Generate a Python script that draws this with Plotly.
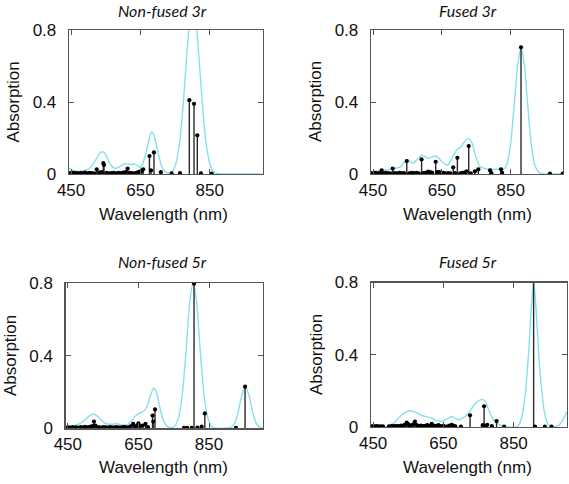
import plotly.graph_objects as go

# ---------------- data ----------------
x_tick_vals = [450, 650, 850]
y_tick_vals = [0, 0.4, 0.8]
y_tick_text = ["0", "0.4", "0.8"]
panel_titles = ["Non-fused 3r", "Fused 3r", "Non-fused 5r", "Fused 5r"]
x_title = "Wavelength (nm)"
y_title = "Absorption"

# Non-fused 3r : broadened spectrum
nf3_curve_nm = [444, 455, 465, 476, 490, 505, 515, 525, 533, 540, 547, 555, 563, 570, 577, 585, 595, 605,
                615, 625, 634, 642, 648, 655, 662, 670, 676, 682, 688, 695, 702, 710, 718, 726, 735, 741,
                751, 761, 771, 781, 791, 801, 811, 821, 831, 841, 851, 861, 875, 900, 950, 1002]
nf3_curve_abs = [0.031, 0.022, 0.015, 0.013, 0.02, 0.035, 0.06, 0.09, 0.115, 0.124, 0.115, 0.085, 0.055,
                 0.038, 0.031, 0.035, 0.048, 0.056, 0.056, 0.054, 0.055, 0.045, 0.037, 0.05, 0.09, 0.15,
                 0.2, 0.235, 0.22, 0.17, 0.11, 0.05, 0.02, 0.008, 0.006, 0.012, 0.05, 0.15, 0.33, 0.59,
                 0.83, 0.93, 0.83, 0.59, 0.33, 0.15, 0.05, 0.012, 0.002, 0.0, 0.0, 0.0]
# Non-fused 3r : transitions
nf3_stick_nm = [447, 451, 456, 461, 466, 472, 478, 485, 490, 497, 503, 510, 517, 524, 531, 538, 543, 545,
                552, 559, 566, 573, 580, 587, 594, 600, 607, 613, 619, 626, 633, 640, 646, 651, 654, 658,
                676, 680.5, 689, 709, 740, 764, 791, 804.5, 814, 824.6, 855.5]
nf3_stick_f = [0.005, 0.004, 0.006, 0.003, 0.005, 0.004, 0.006, 0.003, 0.008, 0.004, 0.006, 0.005, 0.004,
               0.026, 0.008, 0.01, 0.06, 0.05, 0.006, 0.004, 0.005, 0.007, 0.004, 0.006, 0.005, 0.008,
               0.01, 0.03, 0.006, 0.005, 0.004, 0.008, 0.012, 0.015, 0.02, 0.026, 0.1, 0.02, 0.12, 0.01,
               0.003, 0.005, 0.41, 0.39, 0.215, 0.003, 0.002]

# Fused 3r
f3_curve_nm = [444, 460, 485, 510, 530, 540, 548, 556, 567, 580, 591, 600, 611, 621, 630, 640, 652, 667,
               680, 693, 705, 718, 729, 738, 748, 761, 775, 795, 815, 830, 840, 850, 860, 870, 880, 890,
               900, 910, 920, 930, 940, 960, 1002]
f3_curve_abs = [0.007, 0.015, 0.022, 0.03, 0.04, 0.065, 0.081, 0.072, 0.06, 0.085, 0.104, 0.098, 0.087,
                0.094, 0.1, 0.09, 0.065, 0.05, 0.09, 0.133, 0.15, 0.185, 0.198, 0.17, 0.1, 0.04, 0.03,
                0.026, 0.026, 0.028, 0.06, 0.17, 0.38, 0.6, 0.70, 0.6, 0.37, 0.16, 0.05, 0.012, 0.002,
                0.0, 0.0]
f3_stick_nm = [446, 451, 456, 462, 468, 475, 480, 487, 493, 500, 507, 513, 520, 527, 533, 540, 548, 555,
               562, 569, 576, 583, 591, 597, 603, 610, 616, 622, 632, 637, 642, 648, 654, 660, 668, 675,
               683, 688, 695, 703, 710, 716, 722, 728, 734, 746, 756, 790, 794, 822, 825, 880, 964, 1001]
f3_stick_f = [0.003, 0.004, 0.006, 0.003, 0.005, 0.02, 0.004, 0.006, 0.005, 0.004, 0.03, 0.005, 0.003,
              0.006, 0.004, 0.005, 0.072, 0.004, 0.006, 0.005, 0.007, 0.004, 0.081, 0.005, 0.006, 0.013,
              0.01, 0.007, 0.068, 0.01, 0.012, 0.008, 0.006, 0.004, 0.005, 0.004, 0.037, 0.005, 0.09,
              0.004, 0.006, 0.008, 0.015, 0.155, 0.003, 0.015, 0.026, 0.02, 0.005, 0.026, 0.006, 0.704,
              0.002, 0.002]

# Non-fused 5r
nf5_curve_nm = [444, 465, 485, 500, 512, 522, 532, 545, 560, 575, 588, 600, 612, 622, 630, 640, 650, 660,
                668, 676, 684, 694, 702, 710, 718, 726, 734, 742, 752, 765, 775, 785, 795, 805, 815, 825,
                835, 845, 855, 865, 890, 913, 923, 933, 943, 953, 963, 973, 983, 993, 1002]
nf5_curve_abs = [0.004, 0.012, 0.027, 0.05, 0.07, 0.079, 0.07, 0.045, 0.024, 0.022, 0.025, 0.02, 0.015,
                 0.025, 0.04, 0.065, 0.08, 0.088, 0.1, 0.13, 0.18, 0.223, 0.19, 0.12, 0.06, 0.025, 0.008,
                 0.003, 0.01, 0.07, 0.2, 0.43, 0.69, 0.8, 0.69, 0.43, 0.2, 0.07, 0.017, 0.002, 0.0, 0.006,
                 0.03, 0.093, 0.183, 0.229, 0.183, 0.093, 0.03, 0.006, 0.001]
nf5_stick_nm = [448, 453, 458, 463, 468, 474, 480, 486, 492, 498, 504, 510, 515, 520.5, 524, 528, 533, 539,
                545, 551, 557, 563, 569, 575, 581, 587, 593, 599, 605, 611, 617, 623, 629, 635, 641, 646,
                650, 655, 662, 670, 677, 690, 692, 697, 779, 788, 801, 807.5, 817, 829, 838, 926, 952]
nf5_stick_f = [0.004, 0.005, 0.003, 0.006, 0.004, 0.005, 0.003, 0.006, 0.004, 0.008, 0.005, 0.006, 0.01,
               0.012, 0.037, 0.015, 0.006, 0.005, 0.004, 0.006, 0.005, 0.004, 0.006, 0.005, 0.004, 0.007,
               0.005, 0.004, 0.006, 0.008, 0.004, 0.006, 0.012, 0.024, 0.01, 0.015, 0.027, 0.012, 0.015,
               0.024, 0.006, 0.07, 0.037, 0.104, 0.002, 0.002, 0.002, 0.796, 0.004, 0.009, 0.082, 0.002,
               0.229]

# Fused 5r
f5_curve_nm = [444, 470, 493, 503, 512, 525, 540, 555, 570, 588, 600, 617, 632, 645, 660, 674, 684, 693,
               705, 716, 726, 735, 745, 755, 764, 772, 780, 788, 797, 806, 815, 825, 855, 866, 876, 885,
               893, 900, 907, 914, 921, 929, 938, 948, 958, 968, 978, 990, 1002]
f5_curve_abs = [0.0, 0.0, 0.003, 0.012, 0.028, 0.055, 0.08, 0.09, 0.082, 0.065, 0.057, 0.05, 0.035, 0.03,
                0.045, 0.058, 0.048, 0.04, 0.05, 0.065, 0.09, 0.115, 0.138, 0.15, 0.152, 0.13, 0.09,
                0.055, 0.03, 0.018, 0.008, 0.001, 0.0, 0.015, 0.08, 0.22, 0.42, 0.65, 0.815, 0.65, 0.42,
                0.22, 0.08, 0.015, 0.001, 0.002, 0.01, 0.04, 0.085]
f5_stick_nm = [446, 450, 455, 460, 466, 472, 478, 495, 503, 510, 517, 524, 530, 535, 540, 545.6, 549, 553,
               558, 564, 569, 573, 580, 586, 592, 598, 604, 610, 617, 622, 628, 636, 642, 650, 660, 668,
               674, 679, 684, 700, 726, 762, 766, 770, 775, 788, 801.5, 823, 907, 911, 939, 958]
f5_stick_f = [0.003, 0.004, 0.003, 0.005, 0.003, 0.004, 0.003, 0.004, 0.006, 0.005, 0.007, 0.005, 0.008,
              0.006, 0.012, 0.024, 0.018, 0.01, 0.008, 0.015, 0.03, 0.012, 0.006, 0.008, 0.005, 0.007,
              0.01, 0.006, 0.018, 0.008, 0.006, 0.01, 0.005, 0.006, 0.004, 0.008, 0.012, 0.006, 0.004,
              0.002, 0.065, 0.01, 0.115, 0.006, 0.012, 0.005, 0.033, 0.002, 0.85, 0.002, 0.002, 0.002]

panels = [
    (nf3_curve_nm, nf3_curve_abs, nf3_stick_nm, nf3_stick_f),
    (f3_curve_nm, f3_curve_abs, f3_stick_nm, f3_stick_f),
    (nf5_curve_nm, nf5_curve_abs, nf5_stick_nm, nf5_stick_f),
    (f5_curve_nm, f5_curve_abs, f5_stick_nm, f5_stick_f),
]

# ---------------- layout geometry (pixels) ----------------
W, H = 569, 484
# (left, right, top, bottom) of each plot box
boxes = [(69, 262.5, 30, 174), (371, 563, 30, 174), (65.7, 262.7, 283, 428.3), (371, 567, 282.5, 427)]
title_pos = [(162, 11), (467.5, 10), (162, 261), (467.5, 261)]
xtitle_pos = [(163, 214), (467, 214), (163, 467.5), (468, 467.5)]
ytitle_pos = [(13.5, 102), (316, 102), (10, 356), (316, 355)]

CURVE_COLOR = "#84E1EC"
STICK_COLOR = "#2a2a2a"
AXIS_COLOR = "#555555"
TICK_FONT = dict(family="Liberation Sans, Arial, sans-serif", size=17, color="#111111")

fig = go.Figure()
layout = dict(width=W, height=H, margin=dict(l=0, r=0, t=0, b=0, autoexpand=False),
              paper_bgcolor="white", plot_bgcolor="white", showlegend=False, hovermode=False)
annotations = []

for i, (cx, cy, sx, sy) in enumerate(panels):
    n = "" if i == 0 else str(i + 1)
    xa, ya = "x" + n, "y" + n
    fig.add_trace(go.Scatter(x=cx, y=cy, mode="lines", xaxis=xa, yaxis=ya,
                             line=dict(color=CURVE_COLOR, width=1.4, shape="spline", smoothing=0.6),
                             hoverinfo="skip"))
    fig.add_trace(go.Scatter(x=sx, y=sy, mode="markers", xaxis=xa, yaxis=ya,
                             marker=dict(color="black", size=4.2),
                             error_y=dict(type="data", symmetric=False, array=[0] * len(sy),
                                          arrayminus=sy, width=0, thickness=1.4, color=STICK_COLOR)))
    l, r, t, b = boxes[i]
    layout["xaxis" + n] = dict(domain=[l / W, r / W], anchor=ya, range=[444, 1002], automargin=False,
                               tickvals=x_tick_vals, ticks="inside", ticklen=5, tickcolor=AXIS_COLOR,
                               showline=True, linecolor=AXIS_COLOR, linewidth=1.3, mirror="ticks",
                               showgrid=False, zeroline=False, tickfont=TICK_FONT,
                               ticklabelstandoff=0)
    layout["yaxis" + n] = dict(domain=[1 - b / H, 1 - t / H], anchor=xa, range=[0, 0.8], automargin=False,
                               tickvals=y_tick_vals, ticktext=y_tick_text, ticks="inside", ticklen=5,
                               tickcolor=AXIS_COLOR, showline=True, linecolor=AXIS_COLOR, linewidth=1.3,
                               mirror="ticks", showgrid=False, zeroline=False, tickfont=TICK_FONT,
                               ticklabelstandoff=8)
    tx, ty = title_pos[i]
    annotations.append(dict(text=panel_titles[i], x=tx / W, y=1 - ty / H, xref="paper", yref="paper",
                            showarrow=False, xanchor="center", yanchor="middle",
                            font=dict(family="Lato, Carlito, sans-serif", size=16, style="italic",
                                      weight=400, color="#111111")))
    tx, ty = xtitle_pos[i]
    annotations.append(dict(text=x_title, x=tx / W, y=1 - ty / H, xref="paper", yref="paper",
                            showarrow=False, xanchor="center", yanchor="middle",
                            font=dict(family="Liberation Sans, Arial, sans-serif", size=17,
                                      color="#111111")))
    tx, ty = ytitle_pos[i]
    annotations.append(dict(text=y_title, x=tx / W, y=1 - ty / H, xref="paper", yref="paper",
                            showarrow=False, xanchor="center", yanchor="middle", textangle=-90,
                            font=dict(family="Liberation Sans, Arial, sans-serif", size=17,
                                      color="#111111")))

layout["annotations"] = annotations
fig.update_layout(**layout)
# remove the browser's default 8px page margin so the figure sits at the window origin
fig.write_html("out.html", config={"displayModeBar": False, "staticPlot": True},
               post_script="document.body.style.margin='0px';")
